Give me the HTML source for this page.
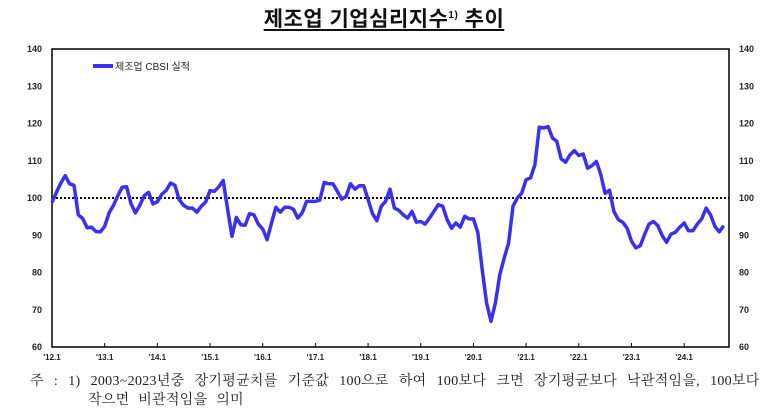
<!DOCTYPE html>
<html><head><meta charset="utf-8"><style>
body{margin:0;background:#fff;width:780px;height:417px;overflow:hidden;font-family:"Liberation Sans","Noto Sans CJK KR",sans-serif}
#title{position:absolute;left:0;width:768px;top:3px;text-align:center;font-size:21px;font-weight:bold;color:#111;letter-spacing:0.5px}
#title span{text-decoration:underline;text-underline-offset:3px}
.note{position:absolute;font-family:"Liberation Serif","Noto Serif CJK SC",serif;font-size:14px;color:#222;white-space:nowrap;letter-spacing:0.3px}
#n1{word-spacing:6.3px}
#n2{word-spacing:5px}
</style></head><body>
<div id="title"><span>제조업 기업심리지수<sup style="font-size:10px">1)</sup> 추이</span></div>
<svg id="chart" width="780" height="417" style="position:absolute;left:0;top:0"></svg>
<div class="note" id="n1" style="left:30px;top:370px">주 : 1) 2003~2023년중 장기평균치를 기준값 100으로 하여 100보다 크면 장기평균보다 낙관적임을, 100보다</div>
<div class="note" id="n2" style="left:88px;top:389px">작으면 비관적임을 의미</div>
<script>
const values=[98.8,101.5,104,106,103.8,103.4,95.5,94.5,92,92.2,91,90.9,
92.4,96,98,100.6,102.9,103,98.5,96,98,100.6,101.5,98.4,
99,101,102,104,103.4,99.5,98,97.3,97.3,96.2,97.8,98.9,
102,101.8,103,104.7,97,89.7,94.8,92.8,92.7,95.8,95.5,93,
91.7,88.8,93.3,97.5,96.2,97.5,97.5,97,94.6,96,99.1,99.1,
99.1,99.4,104.2,103.8,103.8,101.8,99.7,100.4,103.8,102.4,103.3,103.3,
99.6,95.8,93.9,97.8,99.1,102.4,97.3,96.7,95.5,94.6,96.4,93.5,
93.7,93,94.6,96.4,98.2,97.8,94.2,91.9,93.3,92.2,95.1,94.4,
94.4,90.8,80.8,71.8,66.9,71.8,79.4,83.9,87.9,97.8,100,101.3,
104.9,105.4,108.9,119,118.8,119.2,116.1,115.2,110.5,109.6,111.6,112.7,
111.4,111.8,108,108.7,109.8,106.3,101.2,102.1,96.4,94.2,93.5,91.9,
88.4,86.6,87.2,90.2,93,93.7,92.6,89.9,88.1,90.3,90.8,92.2,
93.3,91.2,91.2,93,94.4,97.3,95.5,92.4,90.9,92.6];
const yTicks=[60,70,80,90,100,110,120,130,140];
const xLabels=["'12.1","'13.1","'14.1","'15.1","'16.1","'17.1","'18.1","'19.1","'20.1","'21.1","'22.1","'23.1","'24.1"];
const baseline=100;
const L=52,R=729,T=49,B=347;
const x=i=>L+i*4.39;
const y=v=>B-(v-60)*(B-T)/80;
const s=document.getElementById('chart');
const NS='http://www.w3.org/2000/svg';
function mk(t,a,txt){const e=document.createElementNS(NS,t);for(const k in a)e.setAttribute(k,a[k]);if(txt!==undefined)e.textContent=txt;s.appendChild(e);return e;}
let e=mk('rect',{x:L,y:T,width:R-L,height:B-T,fill:'none',stroke:'#000','stroke-width':1.5});


yTicks.forEach(v=>{
 let t=mk('text',{x:L-10,y:y(v)+3,'text-anchor':'end','font-size':9,'font-weight':'bold',fill:'#222'},v);
 
 
 let t2=mk('text',{x:R+10,y:y(v)+3,'font-size':9,'font-weight':'bold',fill:'#222'},v);
 
 
});
xLabels.forEach((lb,k)=>{
 const xx=x(k*12);
 let tk=mk('line',{x1:xx,x2:xx,y1:B,y2:B-4,stroke:'#000'});
 
 
 let t=mk('text',{x:xx,y:B+13,'text-anchor':'middle','font-size':8,'font-weight':'bold',fill:'#222'},lb);
 
 
});
let bl=mk('line',{x1:L,x2:R,y1:y(baseline),y2:y(baseline),stroke:'#000','stroke-width':2,'stroke-dasharray':'2,2'});


let p=mk('polyline',{points:values.map((v,i)=>x(i).toFixed(1)+','+y(v).toFixed(1)).join(' '),fill:'none',stroke:'#3b2ff0','stroke-width':3.5,'stroke-linejoin':'round'});


let lg=mk('line',{x1:93,x2:113,y1:66,y2:66,stroke:'#3b2ff0','stroke-width':4});


let lt=mk('text',{x:115,y:70,'font-size':10,fill:'#222'},'제조업 CBSI 실적');


</script>
</body></html>
